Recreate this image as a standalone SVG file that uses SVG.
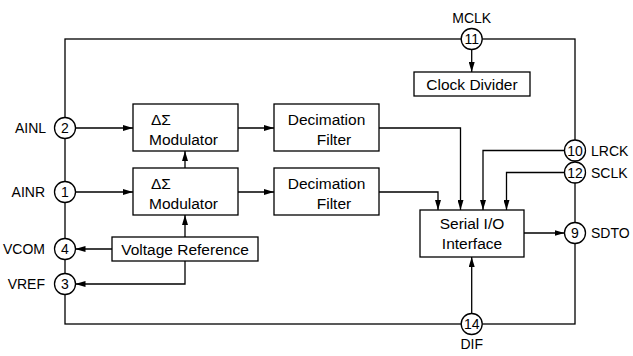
<svg xmlns="http://www.w3.org/2000/svg" width="633" height="356" viewBox="0 0 633 356">
<defs>
<marker id="ah" viewBox="0 0 10 6" refX="10" refY="3" markerWidth="10" markerHeight="6" markerUnits="userSpaceOnUse" orient="auto">
<path d="M0,0 L10,3 L0,6 Z" fill="#000"/>
</marker>
</defs>
<style>
.bx{fill:#fff;stroke:#000;stroke-width:1.3}
.pin{fill:#fff;stroke:#000;stroke-width:1.3}
.ln{fill:none;stroke:#000;stroke-width:1.3}
.ar{fill:none;stroke:#000;stroke-width:1.3;marker-end:url(#ah)}
text{font-family:"Liberation Sans",Arial,sans-serif;fill:#000}
.t{font-size:15.5px;text-anchor:middle}
.m{font-size:15.5px}
.n{font-size:14px;text-anchor:middle}
.lb{font-size:14px}
</style>
<rect width="633" height="356" fill="#fff"/>
<g id="border">
<rect class="ln" x="65" y="39" width="510" height="285"/>
</g>
<g id="connectors">
<path class="ar" d="M75.5,128 H133"/>
<path class="ar" d="M75.5,192 H133"/>
<path class="ar" d="M238,128 H274"/>
<path class="ar" d="M238,192 H274"/>
<path class="ar" d="M185,168 V151"/>
<path class="ar" d="M185,237 V215"/>
<path class="ar" d="M112,249 H75.5"/>
<path class="ar" d="M185,261 V284 H75.5"/>
<path class="ar" d="M379,128 H460.5 V210"/>
<path class="ar" d="M379,192 H438 V210"/>
<path class="ar" d="M564.5,150.5 H483 V210"/>
<path class="ar" d="M564.5,172.5 H506.5 V210"/>
<path class="ar" d="M471.7,49.5 V72"/>
<path class="ar" d="M524,233 H564.5"/>
<path class="ar" d="M471.7,313.5 V257"/>
</g>
<g id="mod1">
<rect class="bx" x="133" y="104" width="105" height="47"/>
<text class="m" x="151" y="125">ΔΣ</text>
<text class="m" x="149" y="145">Modulator</text>
</g>
<g id="mod2">
<rect class="bx" x="133" y="168" width="105" height="47"/>
<text class="m" x="151" y="189">ΔΣ</text>
<text class="m" x="149" y="209">Modulator</text>
</g>
<g id="dec1">
<rect class="bx" x="274" y="104" width="105" height="47"/>
<text class="t" x="326.5" y="125">Decimation</text>
<text class="t" x="334" y="145">Filter</text>
</g>
<g id="dec2">
<rect class="bx" x="274" y="168" width="105" height="47"/>
<text class="t" x="326.5" y="189">Decimation</text>
<text class="t" x="334" y="209">Filter</text>
</g>
<g id="vref">
<rect class="bx" x="112" y="237" width="146" height="24"/>
<text class="t" x="185" y="254.5">Voltage Reference</text>
</g>
<g id="clkdiv">
<rect class="bx" x="414" y="72" width="116" height="24"/>
<text class="t" x="472" y="90">Clock Divider</text>
</g>
<g id="serial">
<rect class="bx" x="420" y="210" width="104" height="47"/>
<text class="t" x="472" y="229">Serial I/O</text>
<text class="t" x="472" y="249">Interface</text>
</g>
<g id="pin2"><circle class="pin" cx="65" cy="128" r="10.5"/><text class="n" x="65" y="133">2</text><text class="lb" x="15" y="133">AINL</text></g>
<g id="pin1"><circle class="pin" cx="65" cy="192" r="10.5"/><text class="n" x="65" y="197">1</text><text class="lb" x="45" y="197" text-anchor="end">AINR</text></g>
<g id="pin4"><circle class="pin" cx="65" cy="249" r="10.5"/><text class="n" x="65" y="254">4</text><text class="lb" x="45" y="254" text-anchor="end">VCOM</text></g>
<g id="pin3"><circle class="pin" cx="65" cy="284" r="10.5"/><text class="n" x="65" y="289">3</text><text class="lb" x="45" y="289" text-anchor="end">VREF</text></g>
<g id="pin11"><circle class="pin" cx="471.7" cy="39" r="10.5"/><text class="n" x="471.7" y="44">11</text><text class="lb" x="471.7" y="23" text-anchor="middle">MCLK</text></g>
<g id="pin10"><circle class="pin" cx="575" cy="150.5" r="10.5"/><text class="n" x="575" y="155.5">10</text><text class="lb" x="591" y="155.5">LRCK</text></g>
<g id="pin12"><circle class="pin" cx="575" cy="172.5" r="10.5"/><text class="n" x="575" y="177.5">12</text><text class="lb" x="591" y="177.5">SCLK</text></g>
<g id="pin9"><circle class="pin" cx="575" cy="233" r="10.5"/><text class="n" x="575" y="238">9</text><text class="lb" x="591" y="238">SDTO</text></g>
<g id="pin14"><circle class="pin" cx="471.7" cy="324" r="10.5"/><text class="n" x="471.7" y="329">14</text><text class="lb" x="471.7" y="349" text-anchor="middle">DIF</text></g>
</svg>
